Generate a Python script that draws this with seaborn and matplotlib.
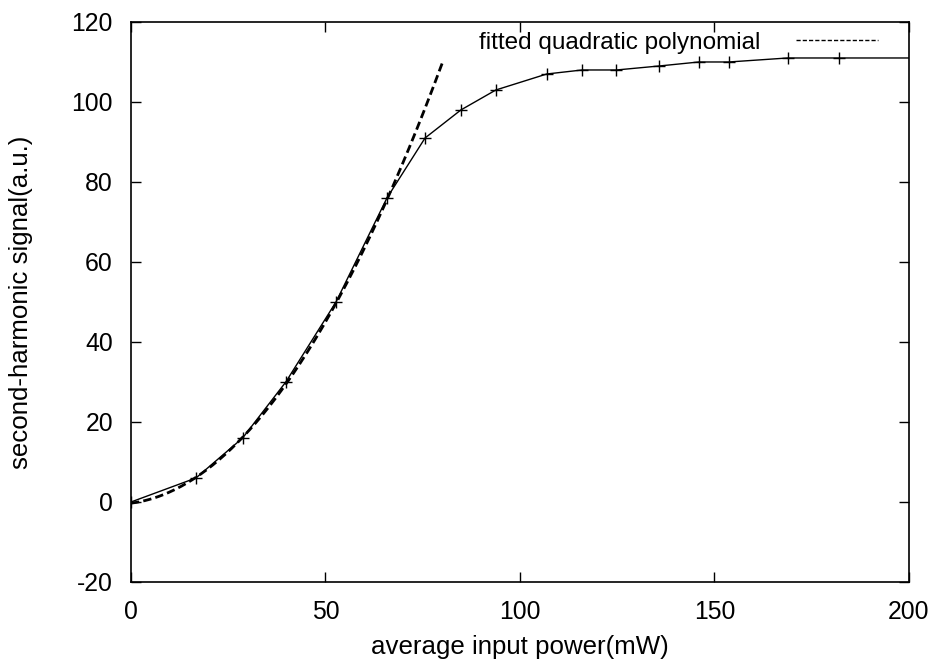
import numpy as np
import pandas as pd
import seaborn as sns
import matplotlib.pyplot as plt

# measured points
power = [0, 16.7, 28.7, 39.8, 52.7, 65.8, 75.6, 84.8, 93.8, 106.9, 116.0, 124.8,
         135.8, 146.0, 153.7, 168.8, 182.0, 210.0]
signal = [0, 6, 16, 30, 50, 76, 91, 98, 103, 107, 108, 108, 109, 110, 110, 111, 111, 111]

# quadratic fit y = a*x^2 + b*x + c, drawn over 0..80 mW
fit_coef = [0.01561, 0.126, -0.3]
fit_range = [0, 80]

sns.set_style("ticks")
plt.rcParams["font.family"] = ["Liberation Sans", "DejaVu Sans"]
plt.rcParams["axes.unicode_minus"] = False
plt.rcParams["text.color"] = "black"
plt.rcParams["axes.labelcolor"] = "black"
plt.rcParams["xtick.color"] = "black"
plt.rcParams["ytick.color"] = "black"

df = pd.DataFrame({"power": power, "signal": signal})
xf = np.linspace(fit_range[0], fit_range[1], 200)
fit_df = pd.DataFrame({"power": xf, "signal": np.polyval(fit_coef, xf)})

fig = plt.figure(figsize=(9.37, 6.64), dpi=100)
ax = fig.add_axes([0.1398, 0.1235, 0.8303, 0.8434])

sns.lineplot(data=df, x="power", y="signal", ax=ax, color="black", lw=1.0,
             marker="+", markersize=8, markeredgewidth=1.0,
             markeredgecolor="black", sort=False)
sns.lineplot(data=fit_df, x="power", y="signal", ax=ax, color="black", lw=2.0,
             linestyle=(0, (3, 1.5)), label="fitted quadratic polynomial")

ax.set_xlim(0, 200)
ax.set_ylim(-20, 120)
ax.set_xticks(range(0, 201, 50))
ax.set_yticks(range(-20, 121, 20))
ax.tick_params(direction="in", top=True, right=True, length=7, width=1,
               labelsize=17.8, pad=13)
for s in ax.spines.values():
    s.set_linewidth(1.2)
    s.set_color("black")

ax.set_xlabel("average input power(mW)", fontsize=18.6, labelpad=8)
ax.set_ylabel("second-harmonic signal(a.u.)", fontsize=18.6, labelpad=28)

leg = ax.legend(loc="upper right", frameon=False, markerfirst=False,
                fontsize=17.5, handlelength=3.4, handletextpad=1.45,
                borderaxespad=0, bbox_to_anchor=(0.973, 0.9995))
leg.get_lines()[0].set_linewidth(1.0)

fig.savefig("out.png", dpi=100)
